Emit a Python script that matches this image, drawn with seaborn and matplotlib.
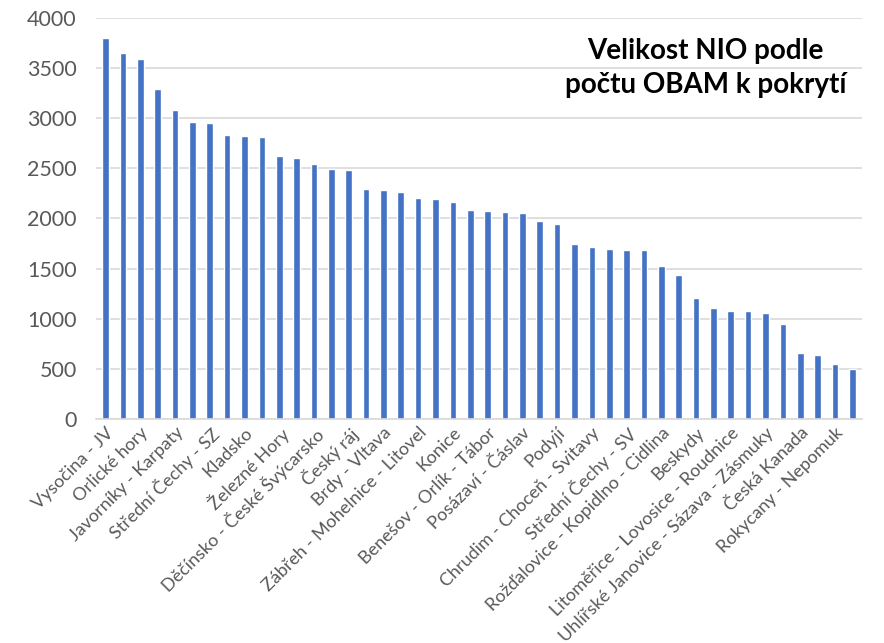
import matplotlib
matplotlib.use('Agg')

import matplotlib.pyplot as plt
import seaborn as sns
import numpy as np
import pandas as pd

# Velikost NIO podle počtu OBAM k pokrytí (44 oblastí, popsána každá druhá)
values = [3800, 3650, 3590, 3290, 3080, 2960, 2950, 2830, 2820, 2810,
          2620, 2600, 2540, 2490, 2480, 2290, 2280, 2260, 2200, 2190,
          2160, 2080, 2070, 2060, 2050, 1970, 1950, 1750, 1720, 1700,
          1690, 1690, 1530, 1440, 1210, 1110, 1080, 1080, 1060, 950,
          660, 640, 550, 500]
shown_labels = ["Vysočina - JV", "Orlické hory", "Javorníky - Karpaty",
                "Střední Čechy - SZ", "Kladsko", "Železné Hory",
                "Děčínsko - České Švýcarsko", "Český ráj", "Brdy - Vltava",
                "Zábřeh - Mohelnice - Litovel", "Konice",
                "Benešov - Orlík - Tábor", "Posázaví - Čáslav", "Podyjí",
                "Chrudim - Choceň - Svitavy", "Střední Čechy - SV",
                "Rožďalovice - Kopidlno - Cidlina", "Beskydy",
                "Litoměřice - Lovosice - Roudnice",
                "Uhlířské Janovice - Sázava - Zásmuky", "Česká Kanada",
                "Rokycany - Nepomuk"]
title = "Velikost NIO podle\npočtu OBAM k pokrytí"

df = pd.DataFrame({"idx": np.arange(len(values)), "count": values})

sns.set_style("white")
plt.rcParams['font.family'] = ['Lato', 'DejaVu Sans']

fig = plt.figure(figsize=(8.84, 6.43), dpi=100)
ax = fig.add_axes([0.1086, 0.3484, 0.8664, 0.6236])

sns.barplot(data=df, x="idx", y="count", color="#4472C4", width=0.38,
            saturation=1, ax=ax)

ax.set_ylim(0, 4000)
ax.set_xlim(-0.55, len(values) - 0.45)
ax.set_yticks(np.arange(0, 4001, 500))
ax.yaxis.grid(True, color="#D9D9D9", linewidth=1.2)
ax.set_axisbelow(True)
for s in ["top", "right", "left"]:
    ax.spines[s].set_visible(False)
ax.spines["bottom"].set_color("#D9D9D9")
ax.spines["bottom"].set_linewidth(1.2)

ax.set_xticks(np.arange(0, len(values), 2))
ax.set_xticklabels(shown_labels, rotation=45, ha="right",
                   rotation_mode="anchor", fontsize=13, color="#595959")
ax.tick_params(axis="y", labelsize=15.5, labelcolor="#595959", length=0, pad=14)
ax.tick_params(axis="x", length=0, pad=4)
ax.set_xlabel("")
ax.set_ylabel("")

fig.text(0.798, 0.894, title, ha="center", va="center", fontsize=20,
         fontweight="bold", color="black", linespacing=1.35)

plt.savefig("out.png", dpi=100)
plt.close(fig)
